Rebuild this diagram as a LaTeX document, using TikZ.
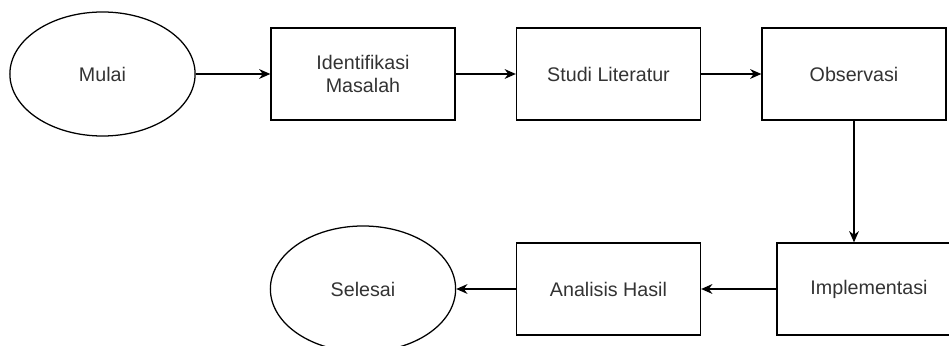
\documentclass[tikz,border=0pt]{standalone}
\usepackage{fontspec}
\setmainfont{Liberation Sans}
\usetikzlibrary{shapes.geometric,arrows.meta}

\definecolor{teksabu}{HTML}{333333}
\tikzset{
  proses/.style={draw, line width=0.9pt, minimum width=4.6cm, minimum height=2.3cm,
    align=center, text=teksabu, font=\fontsize{14}{17}\selectfont},
  terminal/.style={draw, ellipse, line width=0.9pt, minimum width=4.63cm, minimum height=3.1cm,
    inner sep=0pt, text=teksabu, font=\fontsize{14}{17}\selectfont},
  alur/.style={-{Stealth[length=8pt,width=7pt]}, line width=0.9pt}
}

\begin{document}
\begin{tikzpicture}[x=0.025cm, y=-0.025cm]
\useasboundingbox (0,0) rectangle (949,346);
% baris atas
\node[terminal] (mulai) at (102.5,74) {Mulai};
\node[proses] (identifikasi) at (363,74) {Identifikasi\\Masalah};
\node[proses] (studi) at (608.5,74) {Studi Literatur};
\node[proses] (observasi) at (854,74) {Observasi};
% baris bawah
\node[proses] (implementasi) at (869,289) {Implementasi};
\node[proses] (analisis) at (608.5,289) {Analisis Hasil};
\node[terminal, minimum height=3.15cm] (selesai) at (363,289) {Selesai};

\draw[alur] (mulai) -- (identifikasi);
\draw[alur] (identifikasi) -- (studi);
\draw[alur] (studi) -- (observasi);
\draw[alur] (observasi.south) -- (observasi.south |- implementasi.north);
\draw[alur] (implementasi) -- (analisis);
\draw[alur] (analisis) -- (selesai);
\end{tikzpicture}
\end{document}
